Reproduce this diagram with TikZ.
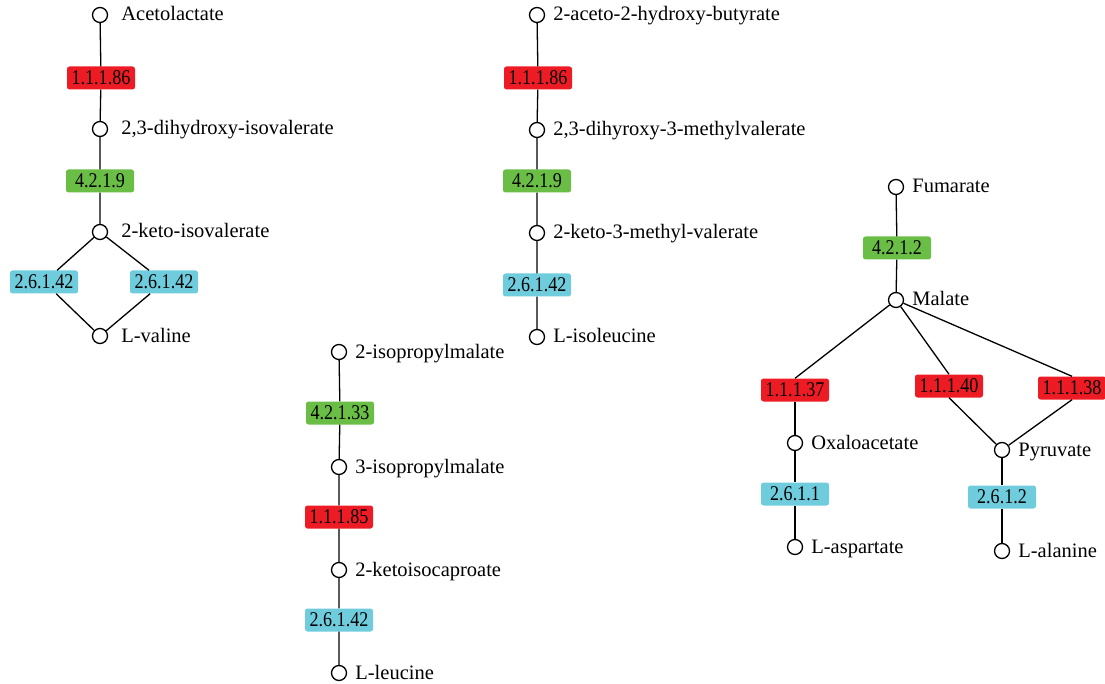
\documentclass[tikz,border=0pt]{standalone}
\usepackage{fontspec}
\setmainfont{Liberation Serif}
\definecolor{ecred}{RGB}{237,28,36}
\definecolor{ecgreen}{RGB}{106,189,69}
\definecolor{eccyan}{RGB}{111,204,221}
\newcommand{\ec}[1]{\scalebox{0.86}[1]{#1}}
\begin{document}
\begin{tikzpicture}[
    x=1pt, y=-1pt,
    % === STYLES ===
    met/.style={circle, draw, fill=white, line width=1.3pt, minimum size=15pt, inner sep=0pt},
    metlabel/.style={anchor=base west, inner sep=0pt, xshift=8pt, yshift=-6pt, font=\fontsize{20.5}{24}\selectfont},
    widelabel/.style={metlabel, xshift=5pt},
    enz/.style={rounded corners=2.5pt, minimum width=68pt, minimum height=23pt, inner sep=0pt, font=\fontsize{21}{24}\selectfont},
    redenz/.style={enz, fill=ecred},
    greenenz/.style={enz, fill=ecgreen},
    cyanenz/.style={enz, fill=eccyan},
    link/.style={line width=1.3pt},
]
    \useasboundingbox (0,0) rectangle (1105,684);

    % === VALINE ===
    \node[met] (acl) at (100,15) {};
    \node[widelabel] (aclL) at (acl.east) {Acetolactate};
    \node[redenz] (va1) at (101,78) {\ec{1.1.1.86}};
    \node[met] (dhiv) at (100,129) {};
    \node[widelabel] (dhivL) at (dhiv.east) {2,3-dihydroxy-isovalerate};
    \node[greenenz] (va2) at (100,181) {\ec{4.2.1.9}};
    \node[met] (kiv) at (100,232) {};
    \node[widelabel] (kivL) at (kiv.east) {2-keto-isovalerate};
    \node[cyanenz] (va3) at (44,282) {\ec{2.6.1.42}};
    \node[cyanenz] (va4) at (164,282) {\ec{2.6.1.42}};
    \node[met] (val) at (100,336) {};
    \node[widelabel] (valL) at (val.east) {L-valine};

    \draw[link] (acl) -- (va1) -- (dhiv) -- (va2) -- (kiv);
    \draw[link] (kiv) -- (va3) -- (val);
    \draw[link] (kiv) -- (va4) -- (val);

    % === ISOLEUCINE ===
    \node[met] (ahb) at (537,15) {};
    \node[metlabel] (ahbL) at (ahb.east) {2-aceto-2-hydroxy-butyrate};
    \node[redenz] (il1) at (538,78) {\ec{1.1.1.86}};
    \node[met] (dmv) at (537,130) {};
    \node[metlabel] (dmvL) at (dmv.east) {2,3-dihyroxy-3-methylvalerate};
    \node[greenenz] (il2) at (537,181) {\ec{4.2.1.9}};
    \node[met] (kmv) at (537,233) {};
    \node[metlabel] (kmvL) at (kmv.east) {2-keto-3-methyl-valerate};
    \node[cyanenz] (il3) at (537,285) {\ec{2.6.1.42}};
    \node[met] (ile) at (537,337) {};
    \node[metlabel] (ileL) at (ile.east) {L-isoleucine};

    \draw[link] (ahb) -- (il1) -- (dmv) -- (il2) -- (kmv) -- (il3) -- (ile);

    % === LEUCINE ===
    \node[met] (ipm) at (339,352) {};
    \node[metlabel] (ipmL) at (ipm.east) {2-isopropylmalate};
    \node[greenenz] (le1) at (340,413) {\ec{4.2.1.33}};
    \node[met] (ipm3) at (339,467) {};
    \node[metlabel] (ipm3L) at (ipm3.east) {3-isopropylmalate};
    \node[redenz] (le2) at (339,517) {\ec{1.1.1.85}};
    \node[met] (kic) at (339,570) {};
    \node[metlabel] (kicL) at (kic.east) {2-ketoisocaproate};
    \node[cyanenz] (le3) at (339,620) {\ec{2.6.1.42}};
    \node[met] (leu) at (339,673) {};
    \node[metlabel] (leuL) at (leu.east) {L-leucine};

    \draw[link] (ipm) -- (le1) -- (ipm3) -- (le2) -- (kic) -- (le3) -- (leu);

    % === MALATE ===
    \node[met] (fum) at (896,187) {};
    \node[metlabel] (fumL) at (fum.east) {Fumarate};
    \node[greenenz] (ma1) at (897,248) {\ec{4.2.1.2}};
    \node[met] (mal) at (896,300) {};
    \node[metlabel] (malL) at (mal.east) {Malate};
    \node[redenz] (ma2) at (795,390) {\ec{1.1.1.37}};
    \node[redenz] (ma3) at (949,386) {\ec{1.1.1.40}};
    \node[redenz] (ma4) at (1072,388) {\ec{1.1.1.38}};
    \node[met] (oaa) at (795,443) {};
    \node[metlabel] (oaaL) at (oaa.east) {Oxaloacetate};
    \node[cyanenz] (ma5) at (795,494) {\ec{2.6.1.1}};
    \node[met] (asp) at (795,547) {};
    \node[metlabel] (aspL) at (asp.east) {L-aspartate};
    \node[met] (pyr) at (1002,450) {};
    \node[metlabel] (pyrL) at (pyr.east) {Pyruvate};
    \node[cyanenz] (ma6) at (1002,497) {\ec{2.6.1.2}};
    \node[met] (ala) at (1002,551) {};
    \node[metlabel] (alaL) at (ala.east) {L-alanine};

    \draw[link] (fum) -- (ma1) -- (mal);
    \draw[link] (mal) -- (ma2.north);
    \draw[link] (mal) -- (ma3.north);
    \draw[link] (mal) -- (ma4.north);
    \draw[link] (ma2) -- (oaa) -- (ma5) -- (asp);
    \draw[link] (ma3.south) -- (pyr);
    \draw[link] (ma4.south) -- (pyr);
    \draw[link] (pyr) -- (ma6) -- (ala);

\end{tikzpicture}
\end{document}
